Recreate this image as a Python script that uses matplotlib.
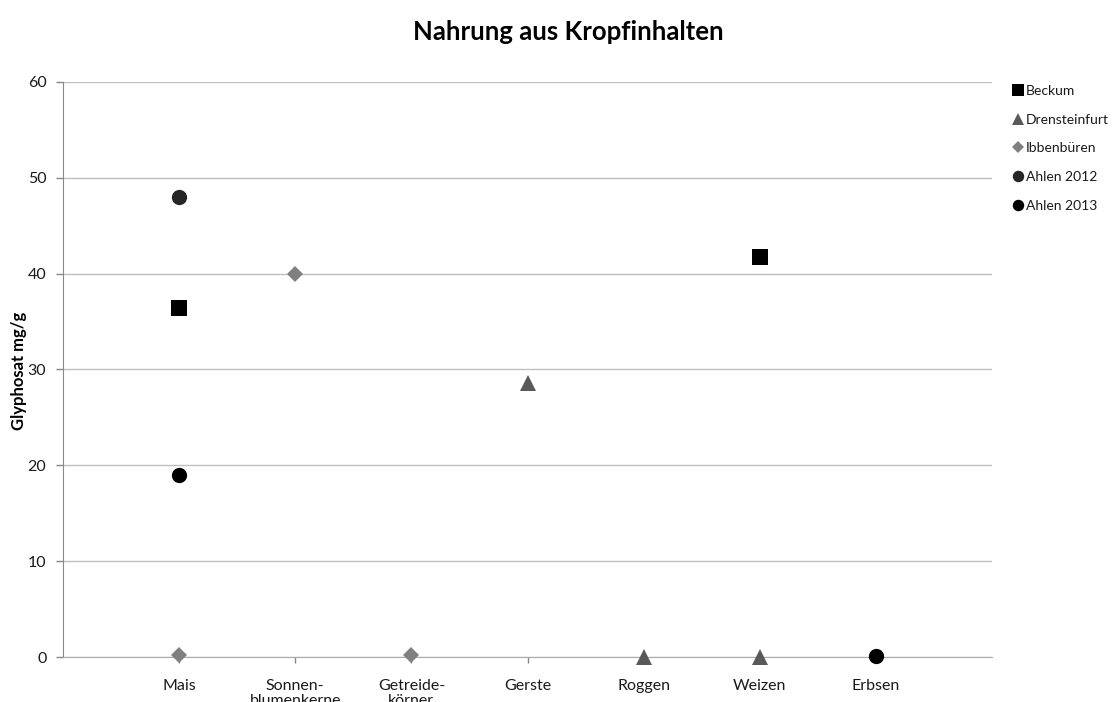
import numpy as np
import matplotlib.pyplot as plt

plt.rcParams['font.family'] = ['Lato', 'DejaVu Sans']

categories = ['Mais', 'Sonnen-\nblumenkerne', 'Getreide-\nkörner', 'Gerste',
              'Roggen', 'Weizen', 'Erbsen']

# Glyphosat in mg/g per Fundort (nan = keine Probe)
nan = np.nan
beckum = [36.4, nan, nan, nan, nan, 41.7, nan]
drensteinfurt = [nan, nan, nan, 28.6, 0.0, 0.0, nan]
ibbenbueren = [0.2, 40.0, 0.2, nan, nan, nan, nan]
ahlen_2012 = [48.0, nan, nan, nan, nan, nan, nan]
ahlen_2013 = [19.0, nan, nan, nan, nan, nan, 0.1]

series = [
    ('Beckum', beckum, 's', '#000000', 11.5),
    ('Drensteinfurt', drensteinfurt, '^', '#595959', 12),
    ('Ibbenbüren', ibbenbueren, 'D', '#808080', 8),
    ('Ahlen 2012', ahlen_2012, 'o', '#262626', 11),
    ('Ahlen 2013', ahlen_2013, 'o', '#000000', 11),
]

fig = plt.figure(figsize=(11.14, 7.02), dpi=100)
ax = fig.add_axes([0.0566, 0.0641, 0.8339, 0.8191])

x = np.arange(1, len(categories) + 1)
handles = []
for name, vals, mk, col, ms in series:
    h, = ax.plot(x, vals, linestyle='none', marker=mk, color=col,
                 markersize=ms, markeredgewidth=0, label=name, zorder=3,
                 clip_on=False)
    handles.append(h)

ax.set_xlim(0, 8)
ax.set_ylim(0, 60)
ax.set_yticks(np.arange(0, 61, 10))
ax.set_xticks(x)
ax.set_xticklabels(categories, fontsize=11.5, color='#1a1a1a',
                   linespacing=1.1)
ax.tick_params(axis='y', labelsize=11.5, colors='#888888', labelcolor='#1a1a1a',
               length=5, width=1, pad=7)
ax.tick_params(axis='x', colors='#888888', labelcolor='#1a1a1a',
               length=4, width=1, pad=12)

ax.grid(axis='y', color='#bfbfbf', linewidth=1)
ax.set_axisbelow(True)
for side in ['top', 'right']:
    ax.spines[side].set_visible(False)
ax.spines['left'].set_color('#888888')
ax.spines['bottom'].set_color('#aaaaaa')

fig.text(0.017, 0.472, 'Glyphosat mg/g', rotation=90, ha='center',
         va='center', fontsize=12, fontweight='bold')
fig.text(0.51, 0.955, 'Nahrung aus Kropfinhalten', ha='center', va='center',
         fontsize=18.5, fontweight='bold')

leg = fig.legend(handles=handles, loc='upper left',
                 bbox_to_anchor=(0.905, 0.887), frameon=False, fontsize=10,
                 handlelength=0.6, handletextpad=0.3, labelspacing=1.2,
                 borderaxespad=0, markerscale=0.75)
for t in leg.get_texts():
    t.set_color('#1a1a1a')

fig.savefig('out.png', dpi=100, facecolor='white')
